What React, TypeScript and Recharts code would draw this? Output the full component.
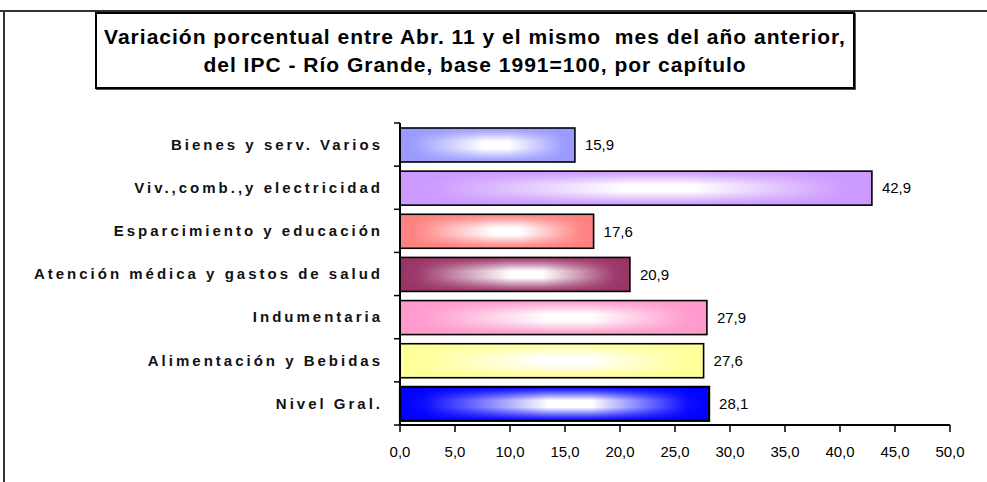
import React from 'react';
import { BarChart, Bar, XAxis, YAxis, LabelList, Cell } from 'recharts';

const categories = [
  'Bienes y serv. Varios',
  'Viv.,comb.,y electricidad',
  'Esparcimiento y educación',
  'Atención médica y gastos de salud',
  'Indumentaria',
  'Alimentación y Bebidas',
  'Nivel Gral.',
];
const values = [15.9, 42.9, 17.6, 20.9, 27.9, 27.6, 28.1];
const colors = ['#9999FF', '#CC99FF', '#FF8080', '#993366', '#FF99CC', '#FFFF99', '#0000FF'];
const xTicks = [0, 5, 10, 15, 20, 25, 30, 35, 40, 45, 50];
const titleLines = [
  'Variación porcentual entre Abr. 11 y el mismo  mes del año anterior,',
  'del IPC - Río Grande, base 1991=100, por capítulo',
];

const data = categories.map((name, i) => ({ name, value: values[i], color: colors[i] }));

const fmt = (v: number) => v.toFixed(1).replace('.', ',');

const YTick = (props: any) => {
  const { x, y, payload, index } = props;
  const half = payload && payload.offset ? payload.offset : 21.6;
  const axisX = x + 8;
  return (
    <g>
      <line x1={axisX - 6} x2={axisX} y1={y - half} y2={y - half} stroke="#000" strokeWidth={1.5} />
      {index === categories.length - 1 && (
        <line x1={axisX - 6} x2={axisX} y1={y + half} y2={y + half} stroke="#000" strokeWidth={1.5} />
      )}
      <text
        x={axisX - 17}
        y={y}
        dy="0.35em"
        textAnchor="end"
        fontFamily="Arial, 'Liberation Sans', sans-serif"
        fontWeight="bold"
        fontSize={15}
        letterSpacing="3px"
        fill="#111"
      >
        {payload.value}
      </text>
    </g>
  );
};

const BarShape = (props: any) => {
  const { x, y, width, height, index } = props;
  if (width <= 0) return null;
  return (
    <g>
      <rect x={x} y={y} width={width} height={height} fill={`url(#gh${index})`} />
      <rect x={x} y={y} width={width} height={height} fill={`url(#gv${index})`} />
      <rect
        x={x}
        y={y}
        width={width}
        height={height}
        fill="none"
        stroke="#000"
        strokeWidth={index === categories.length - 1 ? 2.2 : 1.6}
      />
    </g>
  );
};

export default function App() {
  return (
    <div style={{ position: 'absolute', left: 0, top: 0, width: 987, height: 482, background: '#fff', overflow: 'hidden' }}>
      <div style={{ position: 'absolute', left: 0, top: 10, width: 987, height: 0, borderTop: '2px solid #333' }} />
      <div style={{ position: 'absolute', left: 3, top: 11, width: 0, height: 471, borderLeft: '2px solid #333' }} />
      <div
        style={{
          position: 'absolute',
          left: 95,
          top: 12,
          width: 756,
          height: 73,
          border: '2px solid #000',
          boxShadow: '1px 1px 0 #555',
          background: '#fff',
          display: 'flex',
          flexDirection: 'column',
          justifyContent: 'center',
          alignItems: 'center',
          fontFamily: "Arial, 'Liberation Sans', sans-serif",
          fontWeight: 'bold',
          fontSize: 21,
          letterSpacing: '1px',
          lineHeight: '28px',
          color: '#000',
        }}
      >
        {titleLines.map((t, i) => (
          <div key={i} style={{ whiteSpace: 'pre' }}>{t}</div>
        ))}
      </div>
      <div style={{ position: 'absolute', left: 0, top: 0 }}>
        <BarChart
          width={987}
          height={482}
          data={data}
          layout="vertical"
          margin={{ top: 123, right: 37, bottom: 27, left: 0 }}
          barSize={34}
        >
          <defs>
            {colors.map((c, i) => (
              <linearGradient key={'h' + i} id={`gh${i}`} x1="0" y1="0" x2="1" y2="0">
                <stop offset="0" stopColor={c} />
                <stop offset="0.08" stopColor={c} stopOpacity={0.95} />
                <stop offset="0.48" stopColor="#fff" />
                <stop offset="0.62" stopColor="#fff" />
                <stop offset="0.93" stopColor={c} stopOpacity={0.95} />
                <stop offset="1" stopColor={c} />
              </linearGradient>
            ))}
            {colors.map((c, i) => (
              <linearGradient key={'v' + i} id={`gv${i}`} x1="0" y1="0" x2="0" y2="1">
                <stop offset="0" stopColor={c} stopOpacity={1} />
                <stop offset="0.12" stopColor={c} stopOpacity={0.75} />
                <stop offset="0.4" stopColor={c} stopOpacity={0} />
                <stop offset="0.6" stopColor={c} stopOpacity={0} />
                <stop offset="0.88" stopColor={c} stopOpacity={0.75} />
                <stop offset="1" stopColor={c} stopOpacity={1} />
              </linearGradient>
            ))}
          </defs>
          <XAxis
            type="number"
            domain={[0, 50]}
            ticks={xTicks}
            interval={0}
            height={30}
            tickFormatter={fmt}
            axisLine={{ stroke: '#000', strokeWidth: 2 }}
            tickLine={{ stroke: '#000', strokeWidth: 1.5 }}
            tickSize={7}
            tickMargin={14}
            tick={{ fill: '#000', fontSize: 15, fontFamily: "Arial, 'Liberation Sans', sans-serif" }}
          />
          <YAxis
            type="category"
            dataKey="name"
            width={400}
            interval={0}
            tickLine={false}
            axisLine={{ stroke: '#000', strokeWidth: 2 }}
            tick={<YTick />}
          />
          <Bar dataKey="value" isAnimationActive={false} shape={<BarShape />}>
            {data.map((d, i) => (
              <Cell key={i} fill={d.color} />
            ))}
            <LabelList
              dataKey="value"
              position="right"
              offset={10}
              formatter={(v: any) => fmt(Number(v))}
              style={{ fill: '#000', fontSize: 15, fontFamily: "Arial, 'Liberation Sans', sans-serif" }}
            />
          </Bar>
        </BarChart>
      </div>
    </div>
  );
}
